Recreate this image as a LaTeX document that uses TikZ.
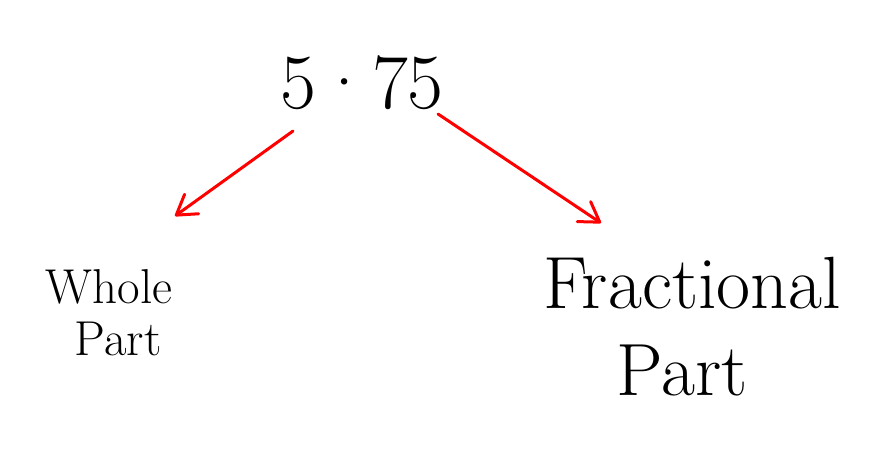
\documentclass[tikz,border=0pt]{standalone}
\usetikzlibrary{arrows.meta}
\begin{document}
\begin{tikzpicture}[x=1pt,y=-1pt,
  arrowline/.style={draw=red, line width=3pt, line cap=round,
    -{Straight Barb[length=19pt,width=24pt,line width=3pt,round]}},
  txt/.style={text=black, inner sep=0pt, anchor=base}]
\path[use as bounding box, fill=white] (0,0) rectangle (894,448);
\node[txt, font=\fontsize{78}{96}\selectfont] (num) at (362,108) {5·75};
\node[txt, font=\fontsize{49}{56}\selectfont] (whole1) at (109,303) {Whole};
\node[txt, font=\fontsize{49}{56}\selectfont] (whole2) at (118,355) {Part};
\node[txt, font=\fontsize{74}{86}\selectfont] (frac1) at (692,308) {Fractional};
\node[txt, font=\fontsize{74}{86}\selectfont] (frac2) at (682,395) {Part};
\coordinate (lstart) at (293,131);
\coordinate (lend) at (175,216);
\coordinate (rstart) at (438,114);
\coordinate (rend) at (601,223);
\draw[arrowline] (lstart) -- (lend);
\draw[arrowline] (rstart) -- (rend);
\end{tikzpicture}
\end{document}
